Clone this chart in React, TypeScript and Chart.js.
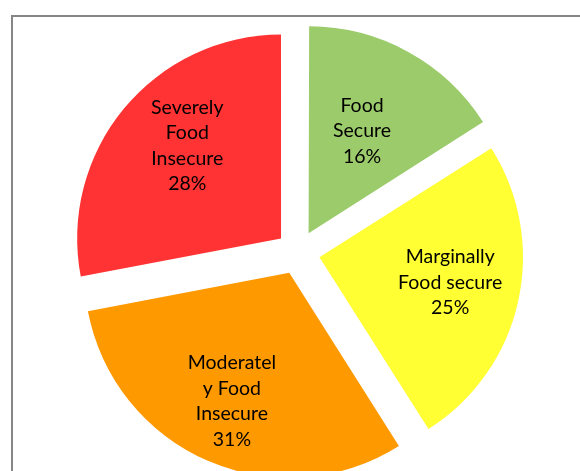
import React, { useEffect, useRef } from "react";
import { Chart, registerables } from "chart.js";

Chart.register(...registerables);

const categories: string[][] = [
  ["Food", "Secure"],
  ["Marginally", "Food secure"],
  ["Moderatel", "y Food", "Insecure"],
  ["Severely", "Food", "Insecure"],
];
const values: number[] = [16, 25, 31, 28];
const sliceColors: string[] = ["#9BCB6A", "#FFFF33", "#FF9900", "#FF3333"];

const labelRadiusRatio = [0.563, 0.655, 0.696, 0.645];
const labelAngleShiftDeg = [-1, -1.3, 0.5, 4.8];
const EXPLODE_PX = 22;

const frameAndLabels = {
  id: "frameAndLabels",
  beforeDraw(chart: any) {
    const ctx = chart.ctx;
    ctx.save();
    ctx.strokeStyle = "#868686";
    ctx.lineWidth = 2;
    ctx.strokeRect(12, 16, 800, 700);
    ctx.restore();
  },
  afterDatasetsDraw(chart: any) {
    const ctx = chart.ctx;
    const meta = chart.getDatasetMeta(0);
    ctx.save();
    ctx.fillStyle = "#000000";
    ctx.font = "19.5px Lato, 'Open Sans', sans-serif";
    ctx.textAlign = "center";
    ctx.textBaseline = "middle";
    const lh = 25.5;
    meta.data.forEach((arc: any, i: number) => {
      const { x, y, startAngle, endAngle, outerRadius } = arc.getProps(
        ["x", "y", "startAngle", "endAngle", "outerRadius"],
        true
      );
      const mid = (startAngle + endAngle) / 2;
      const labAng = mid + (labelAngleShiftDeg[i] * Math.PI) / 180;
      const d = labelRadiusRatio[i] * outerRadius;
      const cx = x + Math.cos(mid) * EXPLODE_PX + Math.cos(labAng) * d;
      const cy = y + Math.sin(mid) * EXPLODE_PX + Math.sin(labAng) * d - 1;
      const lines = [...categories[i], `${values[i]}%`];
      const top = cy - ((lines.length - 1) * lh) / 2;
      lines.forEach((t, k) => ctx.fillText(t, cx, top + k * lh));
    });
    ctx.restore();
  },
};

export default function App() {
  const ref = useRef<HTMLCanvasElement | null>(null);
  useEffect(() => {
    if (!ref.current) return;
    const chart = new Chart(ref.current, {
      type: "pie",
      data: {
        labels: categories.map((c) => c.join(" ")),
        datasets: [
          {
            data: values,
            backgroundColor: sliceColors,
            borderWidth: 0,
            offset: EXPLODE_PX * 4,
            hoverOffset: EXPLODE_PX * 4,
            clip: false,
          } as any,
        ],
      },
      options: {
        responsive: false,
        animation: false,
        events: [],
        radius: 203.5,
        layout: { padding: { left: 16, top: 34, right: 0, bottom: 0 } },
        plugins: {
          legend: { display: false },
          tooltip: { enabled: false },
        },
      } as any,
      plugins: [frameAndLabels],
    });
    return () => chart.destroy();
  }, []);
  return (
    <div
      style={{
        position: "absolute",
        left: 0,
        top: 0,
        width: 580,
        height: 471,
        overflow: "hidden",
        background: "#ffffff",
      }}
    >
      <canvas ref={ref} width={580} height={471} style={{ display: "block" }} />
    </div>
  );
}
